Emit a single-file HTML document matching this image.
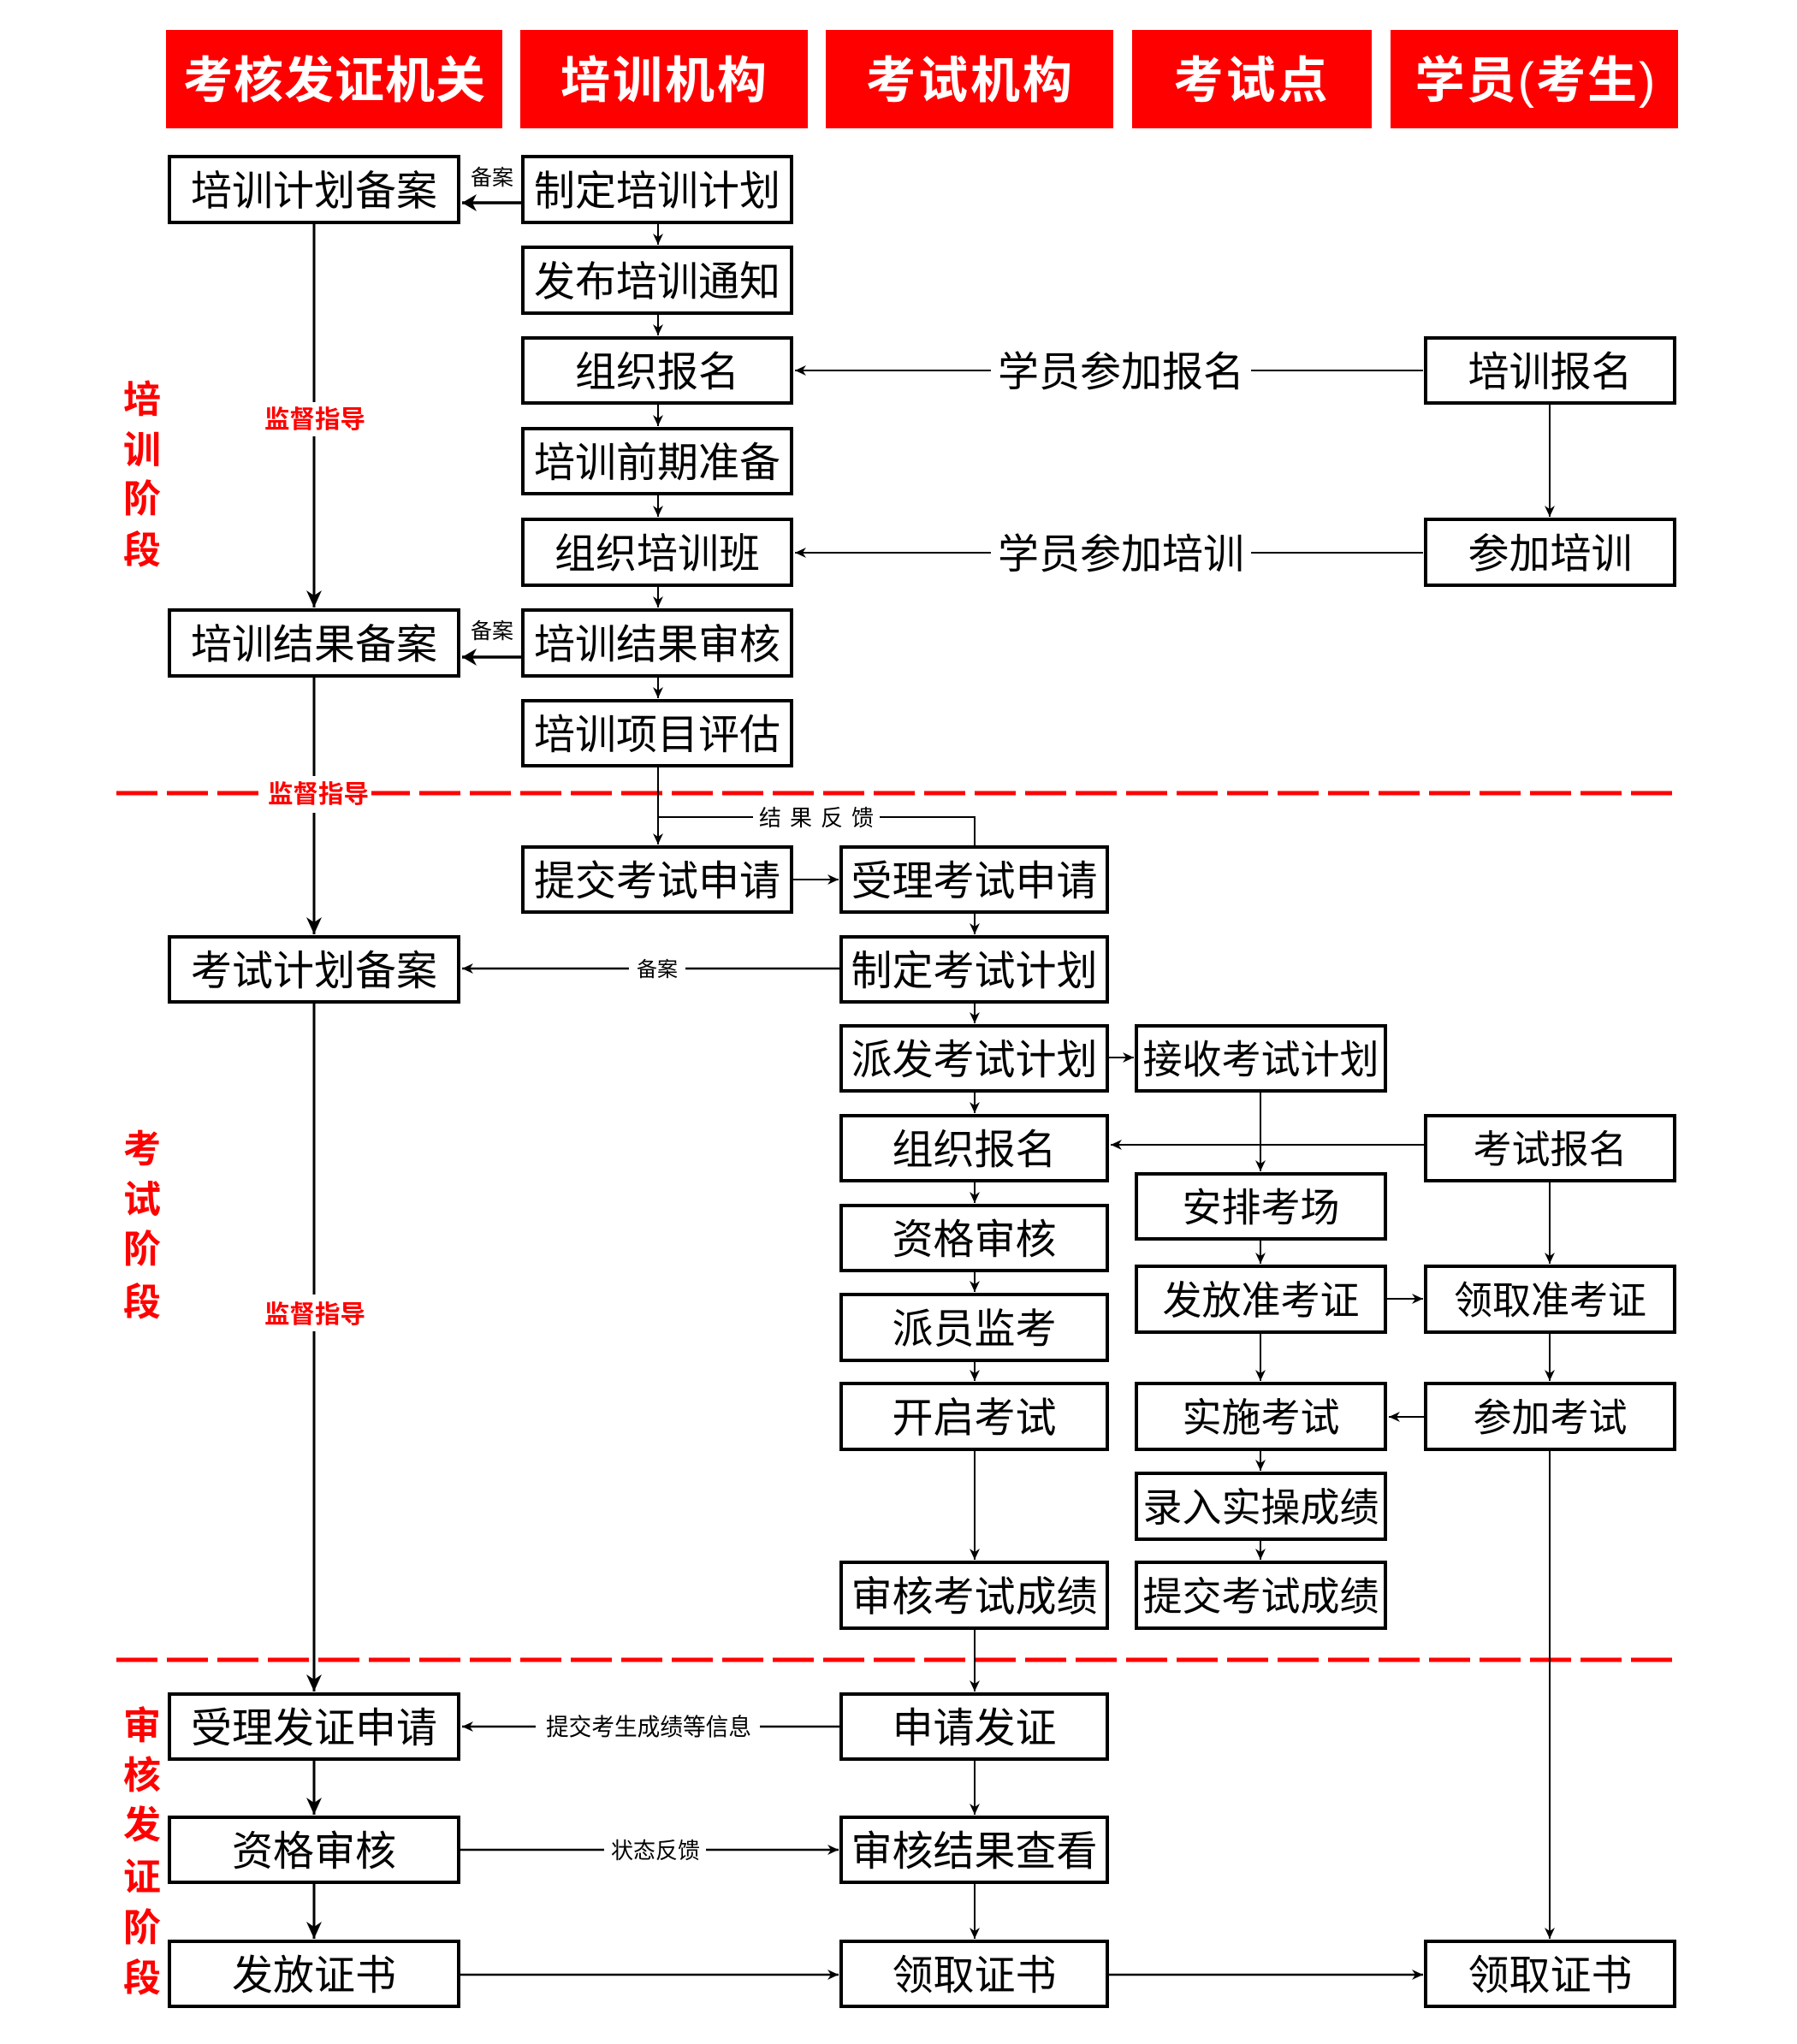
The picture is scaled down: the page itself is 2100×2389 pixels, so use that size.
<!DOCTYPE html>
<html lang="zh-CN">
<head>
<meta charset="utf-8">
<style>
  html,body{margin:0;padding:0;background:#fff;}
  svg{display:block;}
  .f{font-family:"Liberation Sans","Noto Sans CJK SC",sans-serif;}
</style>
</head>
<body>
<svg class="f" width="2100" height="2389" viewBox="0 0 2100 2389" xmlns="http://www.w3.org/2000/svg">
  <defs>
    <marker id="sm" markerUnits="userSpaceOnUse" markerWidth="14" markerHeight="13" refX="13" refY="6" orient="auto" viewBox="0 0 14 13">
      <path d="M0,0 L13,6 L0,12 L4,6 Z" fill="#000"/>
    </marker>
    <marker id="md" markerUnits="userSpaceOnUse" markerWidth="18" markerHeight="21" refX="17" refY="10" orient="auto" viewBox="0 0 18 21">
      <path d="M0,0 L17,10 L0,20 L5,10 Z" fill="#000"/>
    </marker>
    <marker id="lg" markerUnits="userSpaceOnUse" markerWidth="21" markerHeight="19" refX="20" refY="9" orient="auto" viewBox="0 0 21 19">
      <path d="M0,0 L20,9 L0,18 L6,9 Z" fill="#000"/>
    </marker>
  </defs>

  <rect x="0" y="0" width="2100" height="2389" fill="#fff"/>

  <!-- Headers -->
  <g fill="#fe0000">
    <rect x="194" y="35" width="393" height="115"/>
    <rect x="608" y="35" width="336" height="115"/>
    <rect x="965" y="35" width="336" height="115"/>
    <rect x="1323" y="35" width="280" height="115"/>
    <rect x="1625" y="35" width="336" height="115"/>
  </g>
  <g fill="#fff" font-weight="bold" font-size="58" text-anchor="middle">
    <text x="391" y="114" letter-spacing="1">考核发证机关</text>
    <text x="777" y="114" letter-spacing="3">培训机构</text>
    <text x="1134" y="114" letter-spacing="3">考试机构</text>
    <text x="1463" y="114" letter-spacing="3">考试点</text>
    <text x="1795" y="114" letter-spacing="2">学员<tspan font-weight="normal">(</tspan>考生<tspan font-weight="normal">)</tspan></text>
  </g>

  <!-- Red dashed separators -->
  <g stroke="#fe0000" stroke-width="5" stroke-dasharray="48 11" fill="none">
    <line x1="136" y1="927" x2="1962" y2="927"/>
    <line x1="136" y1="1940" x2="1962" y2="1940"/>
  </g>

  <!-- Stage labels -->
  <g fill="#fe0000" font-weight="bold" font-size="44" text-anchor="middle">
    <text x="166" y="482">培</text>
    <text x="166" y="541">训</text>
    <text x="166" y="598">阶</text>
    <text x="166" y="658">段</text>

    <text x="166" y="1358">考</text>
    <text x="166" y="1417">试</text>
    <text x="166" y="1475">阶</text>
    <text x="166" y="1537">段</text>

    <text x="166" y="2032">审</text>
    <text x="166" y="2090">核</text>
    <text x="166" y="2148">发</text>
    <text x="166" y="2209">证</text>
    <text x="166" y="2268">阶</text>
    <text x="166" y="2327">段</text>
  </g>

  <!-- Column 1 supervision lines -->
  <g stroke="#000" stroke-width="3" fill="none">
    <line x1="367" y1="262" x2="367" y2="470"/>
    <line x1="367" y1="510" x2="367" y2="710" marker-end="url(#lg)"/>
    <line x1="367" y1="792" x2="367" y2="907"/>
    <line x1="367" y1="950" x2="367" y2="1092" marker-end="url(#lg)"/>
    <line x1="367" y1="1173" x2="367" y2="1513"/>
    <line x1="367" y1="1556" x2="367" y2="1977" marker-end="url(#lg)"/>
    <line x1="367" y1="2058" x2="367" y2="2121" marker-end="url(#lg)"/>
    <line x1="367" y1="2202" x2="367" y2="2266" marker-end="url(#lg)"/>
  </g>
  <!-- supervision labels -->
  <rect x="304" y="908" width="130" height="38" fill="#fff"/>
  <g fill="#fe0000" font-weight="bold" font-size="29" text-anchor="middle">
    <text x="368" y="500" textLength="118" lengthAdjust="spacingAndGlyphs">监督指导</text>
    <text x="372" y="938" textLength="118" lengthAdjust="spacingAndGlyphs">监督指导</text>
    <text x="368" y="1546" textLength="118" lengthAdjust="spacingAndGlyphs">监督指导</text>
  </g>

  <!-- Thin connectors -->
  <g stroke="#000" stroke-width="2" fill="none">
    <!-- col2 -->
    <line x1="769" y1="262" x2="769" y2="286" marker-end="url(#sm)"/>
    <line x1="769" y1="368" x2="769" y2="392" marker-end="url(#sm)"/>
    <line x1="769" y1="473" x2="769" y2="498" marker-end="url(#sm)"/>
    <line x1="769" y1="579" x2="769" y2="604" marker-end="url(#sm)"/>
    <line x1="769" y1="686" x2="769" y2="710" marker-end="url(#sm)"/>
    <line x1="769" y1="792" x2="769" y2="816" marker-end="url(#sm)"/>
    <line x1="769" y1="897" x2="769" y2="987" marker-end="url(#sm)"/>
    <polyline points="769,955 1139,955 1139,988"/>
    <!-- col3 -->
    <line x1="1139" y1="1068" x2="1139" y2="1092" marker-end="url(#sm)"/>
    <line x1="1139" y1="1173" x2="1139" y2="1196" marker-end="url(#sm)"/>
    <line x1="1139" y1="1277" x2="1139" y2="1301" marker-end="url(#sm)"/>
    <line x1="1139" y1="1382" x2="1139" y2="1406" marker-end="url(#sm)"/>
    <line x1="1139" y1="1487" x2="1139" y2="1510" marker-end="url(#sm)"/>
    <line x1="1139" y1="1592" x2="1139" y2="1614" marker-end="url(#sm)"/>
    <line x1="1139" y1="1696" x2="1139" y2="1823" marker-end="url(#sm)"/>
    <line x1="1139" y1="1905" x2="1139" y2="1977" marker-end="url(#sm)"/>
    <line x1="1139" y1="2058" x2="1139" y2="2121" marker-end="url(#sm)"/>
    <line x1="1139" y1="2202" x2="1139" y2="2266" marker-end="url(#sm)"/>
    <!-- col4 -->
    <line x1="1473" y1="1277" x2="1473" y2="1369" marker-end="url(#sm)"/>
    <line x1="1473" y1="1450" x2="1473" y2="1477" marker-end="url(#sm)"/>
    <line x1="1473" y1="1559" x2="1473" y2="1614" marker-end="url(#sm)"/>
    <line x1="1473" y1="1696" x2="1473" y2="1719" marker-end="url(#sm)"/>
    <line x1="1473" y1="1801" x2="1473" y2="1823" marker-end="url(#sm)"/>
    <!-- col5 -->
    <line x1="1811" y1="473" x2="1811" y2="604" marker-end="url(#sm)"/>
    <line x1="1811" y1="1382" x2="1811" y2="1477" marker-end="url(#sm)"/>
    <line x1="1811" y1="1559" x2="1811" y2="1614" marker-end="url(#sm)"/>
    <line x1="1811" y1="1696" x2="1811" y2="2266" marker-end="url(#sm)"/>
    <!-- horizontals -->
    <line x1="1663" y1="433" x2="929" y2="433" marker-end="url(#sm)"/>
    <line x1="1663" y1="646" x2="929" y2="646" marker-end="url(#sm)"/>
    <line x1="927" y1="1028" x2="980" y2="1028" marker-end="url(#sm)"/>
    <line x1="981" y1="1132" x2="540" y2="1132" stroke-width="2.5" marker-end="url(#sm)"/>
    <line x1="1296" y1="1236" x2="1325" y2="1236" marker-end="url(#sm)"/>
    <line x1="1664" y1="1338" x2="1298" y2="1338" marker-end="url(#sm)"/>
    <line x1="1621" y1="1518" x2="1663" y2="1518" marker-end="url(#sm)"/>
    <line x1="1664" y1="1656" x2="1623" y2="1656" marker-end="url(#sm)"/>
    <line x1="981" y1="2018" x2="540" y2="2018" stroke-width="2.5" marker-end="url(#sm)"/>
    <line x1="538" y1="2162" x2="980" y2="2162" stroke-width="2.5" marker-end="url(#sm)"/>
    <line x1="538" y1="2308" x2="980" y2="2308" stroke-width="2.5" marker-end="url(#sm)"/>
    <line x1="1296" y1="2308" x2="1663" y2="2308" stroke-width="2.5" marker-end="url(#sm)"/>
  </g>

  <!-- Thick 备案 arrows -->
  <g stroke="#000" stroke-width="3.5" fill="none">
    <line x1="609" y1="237" x2="540" y2="237" marker-end="url(#md)"/>
    <line x1="609" y1="768" x2="540" y2="768" marker-end="url(#md)"/>
  </g>

  <!-- Connector label backgrounds -->
  <g fill="#fff">
    <rect x="1158" y="405" width="304" height="56"/>
    <rect x="1158" y="618" width="304" height="56"/>
    <rect x="880" y="940" width="148" height="30"/>
    <rect x="735" y="1117" width="66" height="30"/>
    <rect x="626" y="2001" width="262" height="34"/>
    <rect x="706" y="2146" width="119" height="32"/>
  </g>

  <!-- Connector labels -->
  <g fill="#000" text-anchor="middle">
    <text x="575" y="216" font-size="25">备案</text>
    <text x="575" y="746" font-size="25">备案</text>
    <text x="1310" y="451" font-size="48">学员参加报名</text>
    <text x="1310" y="664" font-size="48">学员参加培训</text>
    <text x="959" y="965" font-size="26" letter-spacing="10">结果反馈</text>
    <text x="768" y="1141" font-size="24">备案</text>
    <text x="758" y="2028" font-size="28" textLength="240" lengthAdjust="spacingAndGlyphs">提交考生成绩等信息</text>
    <text x="766" y="2172" font-size="26">状态反馈</text>
  </g>

  <!-- Boxes -->
  <g fill="#fff" stroke="#000" stroke-width="4">
    <!-- col1 -->
    <rect x="198" y="183" width="338" height="77"/>
    <rect x="198" y="713" width="338" height="77"/>
    <rect x="198" y="1095" width="338" height="76"/>
    <rect x="198" y="1980" width="338" height="76"/>
    <rect x="198" y="2124" width="338" height="76"/>
    <rect x="198" y="2269" width="338" height="76"/>
    <!-- col2 -->
    <rect x="611" y="183" width="314" height="77"/>
    <rect x="611" y="289" width="314" height="77"/>
    <rect x="611" y="395" width="314" height="76"/>
    <rect x="611" y="501" width="314" height="76"/>
    <rect x="611" y="607" width="314" height="77"/>
    <rect x="611" y="713" width="314" height="77"/>
    <rect x="611" y="819" width="314" height="76"/>
    <rect x="611" y="990" width="314" height="76"/>
    <!-- col3 -->
    <rect x="983" y="990" width="311" height="76"/>
    <rect x="983" y="1095" width="311" height="76"/>
    <rect x="983" y="1199" width="311" height="76"/>
    <rect x="983" y="1304" width="311" height="76"/>
    <rect x="983" y="1409" width="311" height="76"/>
    <rect x="983" y="1513" width="311" height="77"/>
    <rect x="983" y="1617" width="311" height="77"/>
    <rect x="983" y="1826" width="311" height="77"/>
    <rect x="983" y="1980" width="311" height="76"/>
    <rect x="983" y="2124" width="311" height="76"/>
    <rect x="983" y="2269" width="311" height="76"/>
    <!-- col4 -->
    <rect x="1328" y="1199" width="291" height="76"/>
    <rect x="1328" y="1372" width="291" height="76"/>
    <rect x="1328" y="1480" width="291" height="77"/>
    <rect x="1328" y="1617" width="291" height="77"/>
    <rect x="1328" y="1722" width="291" height="77"/>
    <rect x="1328" y="1826" width="291" height="77"/>
    <!-- col5 -->
    <rect x="1666" y="395" width="291" height="76"/>
    <rect x="1666" y="607" width="291" height="77"/>
    <rect x="1666" y="1304" width="291" height="76"/>
    <rect x="1666" y="1480" width="291" height="77"/>
    <rect x="1666" y="1617" width="291" height="77"/>
    <rect x="1666" y="2269" width="291" height="76"/>
  </g>

  <!-- Box texts -->
  <g fill="#000" text-anchor="middle" font-size="48">
    <!-- col1 -->
    <text x="367" y="239.5">培训计划备案</text>
    <text x="367" y="769.5">培训结果备案</text>
    <text x="367" y="1151">考试计划备案</text>
    <text x="367" y="2036">受理发证申请</text>
    <text x="367" y="2180">资格审核</text>
    <text x="367" y="2325">发放证书</text>
    <!-- col2 -->
    <text x="768" y="239.5">制定培训计划</text>
    <text x="768" y="345.5">发布培训通知</text>
    <text x="768" y="451">组织报名</text>
    <text x="768" y="557">培训前期准备</text>
    <text x="768" y="663.5">组织培训班</text>
    <text x="768" y="769.5">培训结果审核</text>
    <text x="768" y="875">培训项目评估</text>
    <text x="768" y="1046">提交考试申请</text>
    <!-- col3 -->
    <text x="1138.5" y="1046">受理考试申请</text>
    <text x="1138.5" y="1151">制定考试计划</text>
    <text x="1138.5" y="1255">派发考试计划</text>
    <text x="1138.5" y="1360">组织报名</text>
    <text x="1138.5" y="1465">资格审核</text>
    <text x="1138.5" y="1569.5">派员监考</text>
    <text x="1138.5" y="1673.5">开启考试</text>
    <text x="1138.5" y="1882.5">审核考试成绩</text>
    <text x="1138.5" y="2036">申请发证</text>
    <text x="1138.5" y="2180">审核结果查看</text>
    <text x="1138.5" y="2325">领取证书</text>
    <!-- col5 (training) -->
    <text x="1811.5" y="451">培训报名</text>
    <text x="1811.5" y="663.5">参加培训</text>
    <text x="1811.5" y="2325">领取证书</text>
  </g>
  <g fill="#000" text-anchor="middle" font-size="46">
    <!-- col4 -->
    <text x="1473.5" y="1254.5">接收考试计划</text>
    <text x="1473.5" y="1427.5">安排考场</text>
    <text x="1473.5" y="1536">发放准考证</text>
    <text x="1473.5" y="1673">实施考试</text>
    <text x="1473.5" y="1778">录入实操成绩</text>
    <text x="1473.5" y="1882">提交考试成绩</text>
  </g>
  <g fill="#000" text-anchor="middle" font-size="45">
    <text x="1811.5" y="1359">考试报名</text>
    <text x="1811.5" y="1535.5">领取准考证</text>
    <text x="1811.5" y="1672.5">参加考试</text>
  </g>
</svg>
</body>
</html>
